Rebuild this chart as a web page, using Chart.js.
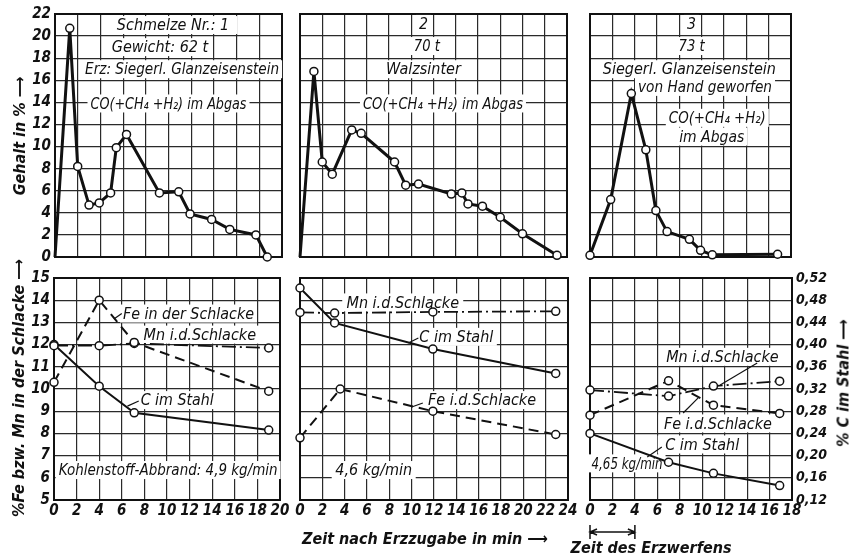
<!DOCTYPE html>
<html>
<head>
<meta charset="utf-8">
<script src="https://cdn.jsdelivr.net/npm/chart.js@4"></script>
<style>
body { margin: 0; background: #fff; width: 851px; height: 556px; position: relative; overflow: hidden;
       font-family: 'Liberation Sans Narrow', 'DejaVu Sans Condensed', 'Liberation Sans', sans-serif; }
canvas { position: absolute; left: 0; top: 0; }
.lbl { position: absolute; font-style: italic; font-weight: bold; font-size: 16px; white-space: nowrap;
       color: #111; transform: translate(-50%, -50%); }
.rot { transform: translate(-50%, -50%) rotate(-90deg); }
</style>
</head>
<body>
<canvas id="o1" width="851" height="556"></canvas>
<canvas id="o2" width="851" height="556"></canvas>
<canvas id="o3" width="851" height="556"></canvas>
<canvas id="u1" width="851" height="556"></canvas>
<canvas id="u2" width="851" height="556"></canvas>
<canvas id="u3" width="851" height="556"></canvas>

<div class="lbl rot" style="left:19px;top:136px">Gehalt in % ⟶</div>
<div class="lbl rot" style="left:18px;top:388px">%Fe bzw. Mn in der Schlacke ⟶</div>
<div class="lbl rot" style="left:843px;top:383px">% C im Stahl ⟶</div>
<div class="lbl" style="left:425px;top:538px">Zeit nach Erzzugabe in min ⟶</div>
<div class="lbl" style="left:651px;top:547px">Zeit des Erzwerfens</div>

<script>
// Abgas (oben): CO(+CH4+H2) in %
const zeit1 = [0, 1.3, 2.0, 3.0, 3.9, 4.9, 5.4, 6.3, 9.2, 10.9, 11.9, 13.8, 15.4, 17.7, 18.7];
const co1   = [0, 20.7, 8.2, 4.7, 4.9, 5.8, 9.9, 11.1, 5.8, 5.9, 3.9, 3.4, 2.5, 2.0, 0];
const zeit2 = [0, 1.25, 2.0, 2.9, 4.65, 5.5, 8.5, 9.5, 10.65, 13.6, 14.55, 15.1, 16.4, 18.0, 20.0, 23.1];
const co2   = [0, 16.8, 8.6, 7.5, 11.5, 11.2, 8.6, 6.5, 6.6, 5.7, 5.8, 4.8, 4.6, 3.6, 2.1, 0.15];
const zeit3 = [0, 1.85, 3.7, 5.0, 5.9, 6.9, 8.9, 9.9, 10.95, 16.8];
const co3   = [0.15, 5.2, 14.8, 9.7, 4.2, 2.3, 1.6, 0.6, 0.2, 0.25];

// Schlacke / Stahl (unten): Fe, Mn in %, C in %
const probe1 = [0, 4, 7.1, 19];
const fe1 = [10.3, 14.0, 12.1, 9.9];
const mn1 = [11.95, 11.95, 12.05, 11.85];
const c1  = [0.40, 0.325, 0.277, 0.246];

const probe2   = [0, 3.1, 11.9, 22.9];
const probe2fe = [0, 3.6, 11.9, 22.9];
const fe2 = [7.8, 10.0, 9.0, 7.95];
const mn2 = [13.45, 13.42, 13.47, 13.5];
const c2  = [0.502, 0.439, 0.392, 0.348];

const probe3 = [0, 7.0, 11.0, 16.9];
const fe3 = [8.82, 10.37, 9.27, 8.9];
const mn3 = [9.95, 9.68, 10.13, 10.35];
const c3  = [0.24, 0.188, 0.168, 0.146];

// Achsen
const xTicks20 = [0, 2, 4, 6, 8, 10, 12, 14, 16, 18, 20];
const xTicks24 = [0, 2, 4, 6, 8, 10, 12, 14, 16, 18, 20, 22, 24];
const xTicks18 = [0, 2, 4, 6, 8, 10, 12, 14, 16, 18];
const gehaltTicks = [0, 2, 4, 6, 8, 10, 12, 14, 16, 18, 20, 22];
const schlackeTicks = [5, 6, 7, 8, 9, 10, 11, 12, 13, 14, 15];
const stahlTicks = [0.12, 0.16, 0.20, 0.24, 0.28, 0.32, 0.36, 0.40, 0.44, 0.48, 0.52];

const FAM = "'Liberation Sans Narrow', 'DejaVu Sans Condensed', 'Liberation Sans', sans-serif";
const INK = '#111';
const AXIS_SIZE = 40;

const pts = (xs, ys) => xs.map((x, i) => ({ x: x, y: ys[i] }));

const notiz = {
    id: 'notiz',
    beforeDatasetsDraw(chart, args, opts) {
        const { ctx, chartArea: a, scales } = chart;
        ctx.save();
        ctx.lineWidth = 2;
        ctx.strokeStyle = INK;
        ctx.strokeRect(a.left, a.top, a.right - a.left, a.bottom - a.top);
        ctx.font = 'italic 16px ' + FAM;
        ctx.textAlign = 'center';
        ctx.textBaseline = 'middle';
        (opts.items || []).forEach(n => {
            const px = scales.x.getPixelForValue(n.x);
            const py = scales.y.getPixelForValue(n.y);
            ctx.fillStyle = '#fff';
            ctx.fillRect(px - n.w / 2 - 3, py - 9, n.w + 6, 18);
            ctx.fillStyle = INK;
            ctx.fillText(n.t, px, py + 1, n.w);
        });
        ctx.lineWidth = 1.2;
        (opts.leaders || []).forEach(l => {
            ctx.beginPath();
            ctx.moveTo(scales.x.getPixelForValue(l[0]), scales.y.getPixelForValue(l[1]));
            ctx.lineTo(scales.x.getPixelForValue(l[2]), scales.y.getPixelForValue(l[3]));
            ctx.stroke();
        });
        ctx.restore();
    },
    afterDraw(chart, args, opts) {
        if (!opts.bracket) return;
        const { ctx, chartArea: a, scales } = chart;
        const x0 = scales.x.getPixelForValue(opts.bracket[0]);
        const x1 = scales.x.getPixelForValue(opts.bracket[1]);
        const y = a.bottom + 32;
        ctx.save();
        ctx.strokeStyle = INK;
        ctx.lineWidth = 1.5;
        ctx.beginPath();
        ctx.moveTo(x0, y - 7); ctx.lineTo(x0, y + 7);
        ctx.moveTo(x1, y - 7); ctx.lineTo(x1, y + 7);
        ctx.moveTo(x0, y); ctx.lineTo(x1, y);
        ctx.moveTo(x0 + 7, y - 3); ctx.lineTo(x0, y); ctx.lineTo(x0 + 7, y + 3);
        ctx.moveTo(x1 - 7, y - 3); ctx.lineTo(x1, y); ctx.lineTo(x1 - 7, y + 3);
        ctx.stroke();
        ctx.restore();
    }
};

function axis(ticks, show, pos, grid) {
    const size = show ? AXIS_SIZE : 0;
    return {
        type: 'linear',
        position: pos,
        min: ticks[0],
        max: ticks[ticks.length - 1],
        afterBuildTicks: s => { s.ticks = ticks.map(v => ({ value: v })); },
        afterFit: s => { if (s.isHorizontal()) s.height = size; else s.width = size; },
        ticks: {
            display: show, color: INK, padding: pos === 'bottom' ? 2 : 4,
            font: { family: FAM, size: pos === 'right' ? 14 : 15, style: 'italic', weight: 'bold' },
            autoSkip: false, maxRotation: 0,
            callback: v => (Number.isInteger(v) ? String(v) : v.toFixed(2).replace('.', ','))
        },
        grid: { display: grid, color: '#2a2a2a', lineWidth: 1.2, drawTicks: false },
        border: { display: false }
    };
}

function linie(data, opt) {
    return Object.assign({
        data: data,
        borderColor: INK,
        borderWidth: 2,
        pointRadius: 4,
        pointBackgroundColor: '#fff',
        pointBorderColor: INK,
        pointBorderWidth: 1.5,
        tension: 0,
        clip: false
    }, opt);
}

// area = [links, oben, rechts, unten] der Zeichenfläche; shown = sichtbare Achsen
function panel(id, area, shown, datasets, scales, notizOpts) {
    const pad = {
        left: area[0] - (shown.left ? AXIS_SIZE : 0),
        top: area[1],
        right: 851 - area[2] - (shown.right ? AXIS_SIZE : 0),
        bottom: 556 - area[3] - (shown.bottom ? AXIS_SIZE : 0)
    };
    new Chart(document.getElementById(id), {
        type: 'line',
        data: { datasets: datasets },
        options: {
            responsive: false,
            animation: false,
            events: [],
            layout: { padding: pad },
            scales: scales,
            plugins: { legend: { display: false }, tooltip: { enabled: false }, notiz: notizOpts }
        },
        plugins: [notiz]
    });
}

// obere Reihe
panel('o1', [55, 14, 282, 257], { left: true },
    [linie(pts(zeit1, co1), { borderWidth: 3, pointRadius: co1.map((v, i) => i === 0 ? 0 : 4) })],
    { x: axis(xTicks20, false, 'bottom', true), y: axis(gehaltTicks, true, 'left', true) },
    { items: [
        { t: 'Schmelze Nr.: 1', x: 10.4, y: 21.0, w: 123 },
        { t: 'Gewicht: 62 t', x: 9.25, y: 19.0, w: 99 },
        { t: 'Erz: Siegerl. Glanzeisenstein', x: 11.2, y: 17.0, w: 194 },
        { t: 'CO(+CH₄ +H₂) im Abgas', x: 10.0, y: 13.9, w: 156 }
    ] });

panel('o2', [300, 14, 567, 257], {},
    [linie(pts(zeit2, co2), { borderWidth: 3, pointRadius: co2.map((v, i) => i === 0 ? 0 : 4) })],
    { x: axis(xTicks24, false, 'bottom', true), y: axis(gehaltTicks, false, 'left', true) },
    { items: [
        { t: '2', x: 11.1, y: 21.1, w: 9 },
        { t: '70 t', x: 11.4, y: 19.1, w: 26 },
        { t: 'Walzsinter', x: 11.1, y: 17.0, w: 87 },
        { t: 'CO(+CH₄ +H₂) im Abgas', x: 12.85, y: 13.9, w: 160 }
    ] });

panel('o3', [590, 14, 791, 257], {},
    [linie(pts(zeit3, co3), { borderWidth: 3 })],
    { x: axis(xTicks18, false, 'bottom', true), y: axis(gehaltTicks, false, 'left', true) },
    { items: [
        { t: '3', x: 9.1, y: 21.1, w: 9 },
        { t: '73 t', x: 9.1, y: 19.1, w: 26 },
        { t: 'Siegerl. Glanzeisenstein', x: 8.9, y: 17.0, w: 175 },
        { t: 'von Hand geworfen', x: 10.3, y: 15.4, w: 134 },
        { t: 'CO(+CH₄ +H₂)', x: 11.4, y: 12.6, w: 97 },
        { t: 'im Abgas', x: 10.9, y: 10.9, w: 65 }
    ] });

// untere Reihe
const feStil = { borderDash: [10, 6] };
const mnStil = { borderDash: [14, 4, 2, 4], borderWidth: 1.8 };

panel('u1', [54, 278, 280, 500], { left: true, bottom: true },
    [linie(pts(probe1, fe1), feStil),
     linie(pts(probe1, mn1), mnStil),
     linie(pts(probe1, c1), { yAxisID: 'y2' })],
    { x: axis(xTicks20, true, 'bottom', true), y: axis(schlackeTicks, true, 'left', true),
      y2: Object.assign(axis(stahlTicks, false, 'right', false), { display: false }) },
    { items: [
        { t: 'Fe in der Schlacke', x: 11.9, y: 13.4, w: 131 },
        { t: 'Mn i.d.Schlacke', x: 12.9, y: 12.45, w: 116 },
        { t: 'C im Stahl', x: 10.9, y: 9.5, w: 73 },
        { t: 'Kohlenstoff-Abbrand: 4,9 kg/min', x: 10.1, y: 6.35, w: 219 }
    ], leaders: [[6.0, 13.4, 5.3, 13.15], [7.5, 9.46, 6.5, 9.23]] });

panel('u2', [300, 278, 568, 500], { bottom: true },
    [linie(pts(probe2fe, fe2), feStil),
     linie(pts(probe2, mn2), mnStil),
     linie(pts(probe2, c2), { yAxisID: 'y2' })],
    { x: axis(xTicks24, true, 'bottom', true), y: axis(schlackeTicks, false, 'left', true),
      y2: Object.assign(axis(stahlTicks, false, 'right', false), { display: false }) },
    { items: [
        { t: 'Mn i.d.Schlacke', x: 9.2, y: 13.9, w: 115 },
        { t: 'C im Stahl', x: 14.0, y: 12.35, w: 75 },
        { t: 'Fe i.d.Schlacke', x: 16.3, y: 9.5, w: 113 },
        { t: '4,6 kg/min', x: 6.6, y: 6.35, w: 78 }
    ], leaders: [[10.6, 12.3, 9.7, 12.07], [11.0, 9.37, 10.0, 9.19]] });

panel('u3', [590, 278, 792, 500], { bottom: true, right: true },
    [linie(pts(probe3, fe3), feStil),
     linie(pts(probe3, mn3), mnStil),
     linie(pts(probe3, c3), { yAxisID: 'y2' })],
    { x: axis(xTicks18, true, 'bottom', true), y: axis(schlackeTicks, false, 'left', true),
      y2: axis(stahlTicks, true, 'right', false) },
    { items: [
        { t: 'Mn i.d.Schlacke', x: 11.8, y: 11.45, w: 121 },
        { t: 'Fe i.d.Schlacke', x: 11.4, y: 8.45, w: 113 },
        { t: 'C im Stahl', x: 10.0, y: 7.5, w: 83 },
        { t: '4,65 kg/min', x: 3.3, y: 6.65, w: 71 }
    ], leaders: [[14.9, 11.17, 11.6, 10.18], [8.3, 8.92, 9.64, 9.6], [6.4, 7.39, 5.1, 6.94]],
      bracket: [0, 4] });
</script>
</body>
</html>
